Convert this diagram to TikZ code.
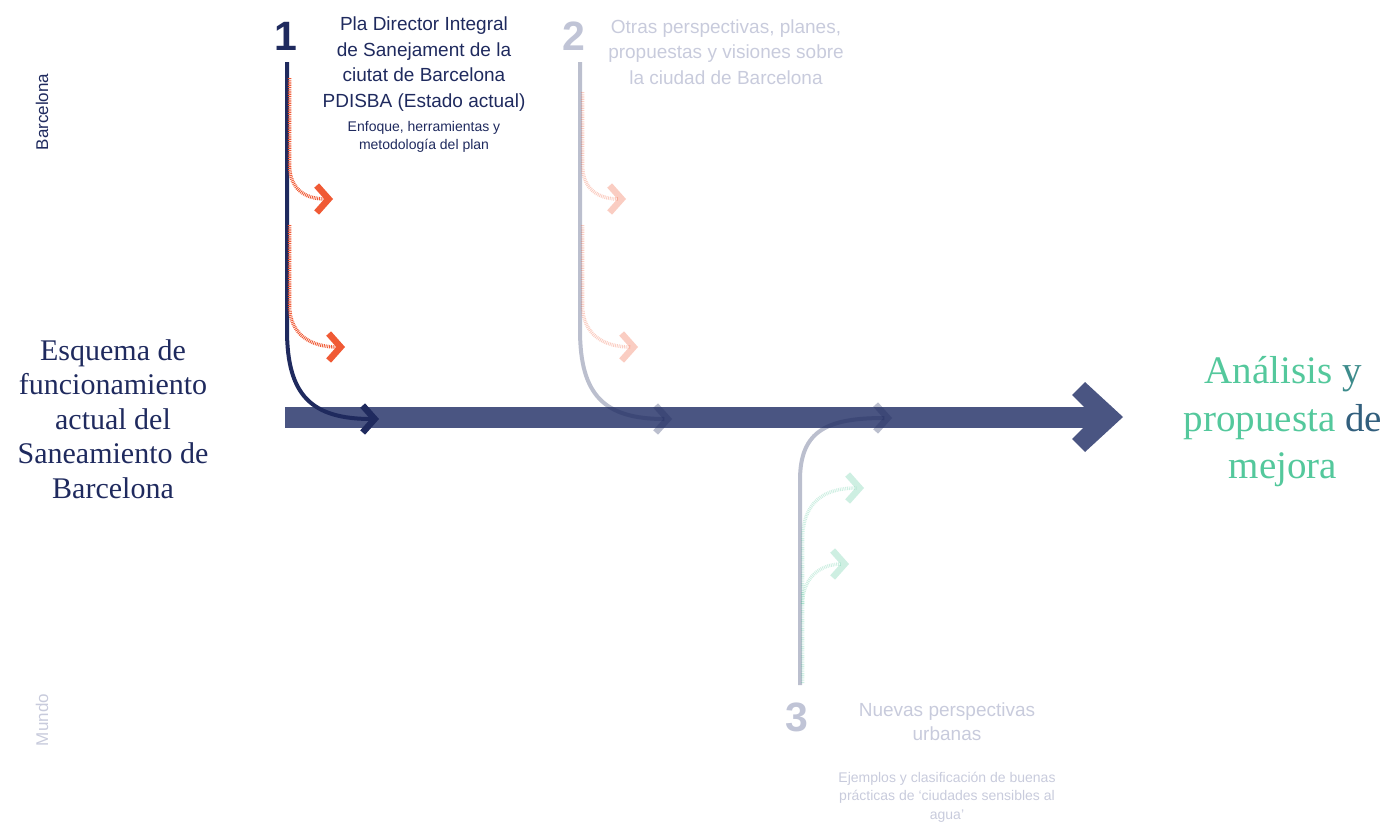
\documentclass[tikz,border=0pt]{standalone}
\usepackage{fontspec}
\setmainfont{Liberation Serif}
\setsansfont{Liberation Sans}
\usetikzlibrary{arrows.meta}
\definecolor{navy}{RGB}{31,42,94}
\definecolor{barc}{RGB}{74,85,130}
\definecolor{orng}{RGB}{240,90,53}
\definecolor{grn}{RGB}{60,190,140}
\definecolor{fadetxt}{RGB}{192,196,214}
\definecolor{fadesub}{RGB}{200,203,220}
\definecolor{gA}{RGB}{84,200,156}
\definecolor{gB}{RGB}{62,140,140}
\definecolor{gC}{RGB}{50,95,125}
\tikzset{
  tip/.style={-{Straight Barb[length=12pt,width=27pt,line width'=6.5pt]}},
  flow/.style={draw=navy,line width=4pt,tip},
  dotflow/.style={line width=3.5pt,dash pattern=on 0.9pt off 0.9pt,
    -{Straight Barb[length=12pt,width=27pt,line width'=6.5pt]}},
  faded/.style={draw opacity=0.3,fill opacity=0.3},
  sans/.style={font=\sffamily\fontsize{19}{25.5}\selectfont,align=center},
  sub/.style={font=\sffamily\fontsize{14}{17.5}\selectfont,align=center},
  num/.style={font=\sffamily\bfseries\fontsize{41}{41}\selectfont},
}
\begin{document}
\begin{tikzpicture}[x=1pt,y=-1pt]
\useasboundingbox (0,0) rectangle (1396,822);
% main arrow
\fill[barc] (285,407) rectangle (1100,428);
\fill[barc] (1085,382) -- (1123,417) -- (1085,452) -- (1072,439) -- (1094,417) -- (1072,395) -- cycle;
\coordinate (main) at (1123,417);
% group 1
\coordinate (s1) at (287,62);
\coordinate (e1) at (379,419);
\coordinate (o1a) at (333,199);
\coordinate (o1b) at (345,347);
\draw[flow] (s1) -- (287,330) .. controls (287,396) and (312,419) .. (e1);
\draw[dotflow,orng] (289.5,78) -- (289.5,165) .. controls (289.5,188) and (304,199) .. (o1a);
\draw[dotflow,orng] (289.5,225) -- (289.5,305) .. controls (289.5,334) and (310,347) .. (o1b);
% group 2
\coordinate (s2) at (580,62);
\coordinate (e2) at (672,419);
\coordinate (o2a) at (626,199);
\coordinate (o2b) at (638,347);
\draw[flow,faded] (s2) -- (580,330) .. controls (580,396) and (605,419) .. (e2);
\draw[dotflow,orng,faded] (582.5,92) -- (582.5,165) .. controls (582.5,188) and (597,199) .. (o2a);
\draw[dotflow,orng,faded] (582.5,225) -- (582.5,305) .. controls (582.5,334) and (603,347) .. (o2b);
% group 3
\coordinate (s3) at (800,685);
\coordinate (e3) at (892,418);
\coordinate (g3a) at (864,488);
\coordinate (g3b) at (849,564);
\draw[flow,faded] (s3) -- (800,480) .. controls (800,430) and (828,418) .. (e3);
\draw[dotflow,grn,draw opacity=0.25] (802.5,683) -- (802.5,540) .. controls (802.5,502) and (824,488) .. (g3a);
\draw[dotflow,grn,draw opacity=0.25] (802.5,604) .. controls (802.5,578) and (820,564) .. (g3b);
% texts group 1
\node[num,text=navy] (n1) at (286,36) {1};
\node[sans,text=navy] (t1) at (424,64) {Pla Director Integral\\de Sanejament de la\\ciutat de Barcelona\\PDISBA (Estado actual)};
\node[sub,text=navy] (u1) at (424,137) {Enfoque, herramientas y\\metodología del plan};
% texts group 2
\node[num,text=fadetxt] (n2) at (574,36) {2};
\node[sans,text=fadesub] (t2) at (726,52) {Otras perspectivas, planes,\\propuestas y visiones sobre\\la ciudad de Barcelona};
% texts group 3
\node[num,text=fadetxt] (n3) at (797,717) {3};
\node[sans,text=fadesub,font=\sffamily\fontsize{19}{24}\selectfont] (t3) at (947,722) {Nuevas perspectivas\\urbanas};
\node[sub,text=fadesub,font=\sffamily\fontsize{14}{18.5}\selectfont] (u3) at (947,797) {Ejemplos y clasificación de buenas\\prácticas de ‘ciudades sensibles al\\agua’};
% side texts
\node[text=navy,align=center,font=\fontsize{30}{34.5}\selectfont] (left) at (113,419) {Esquema de\\funcionamiento\\actual del\\Saneamiento de\\Barcelona};
\node[align=center,font=\fontsize{39}{47.5}\selectfont] (right) at (1283,422) {\textcolor{gA}{Análisis} \textcolor{gB}{y}\\\textcolor{gA}{propuesta} \textcolor{gC}{de}\\\textcolor{gA}{mejora}};
\node[rotate=90,text=navy,font=\sffamily\fontsize{17}{17}\selectfont] (bcn) at (42,112) {Barcelona};
\node[rotate=90,text=fadesub,font=\sffamily\fontsize{17}{17}\selectfont] (mundo) at (42,720) {Mundo};
\end{tikzpicture}
\end{document}
